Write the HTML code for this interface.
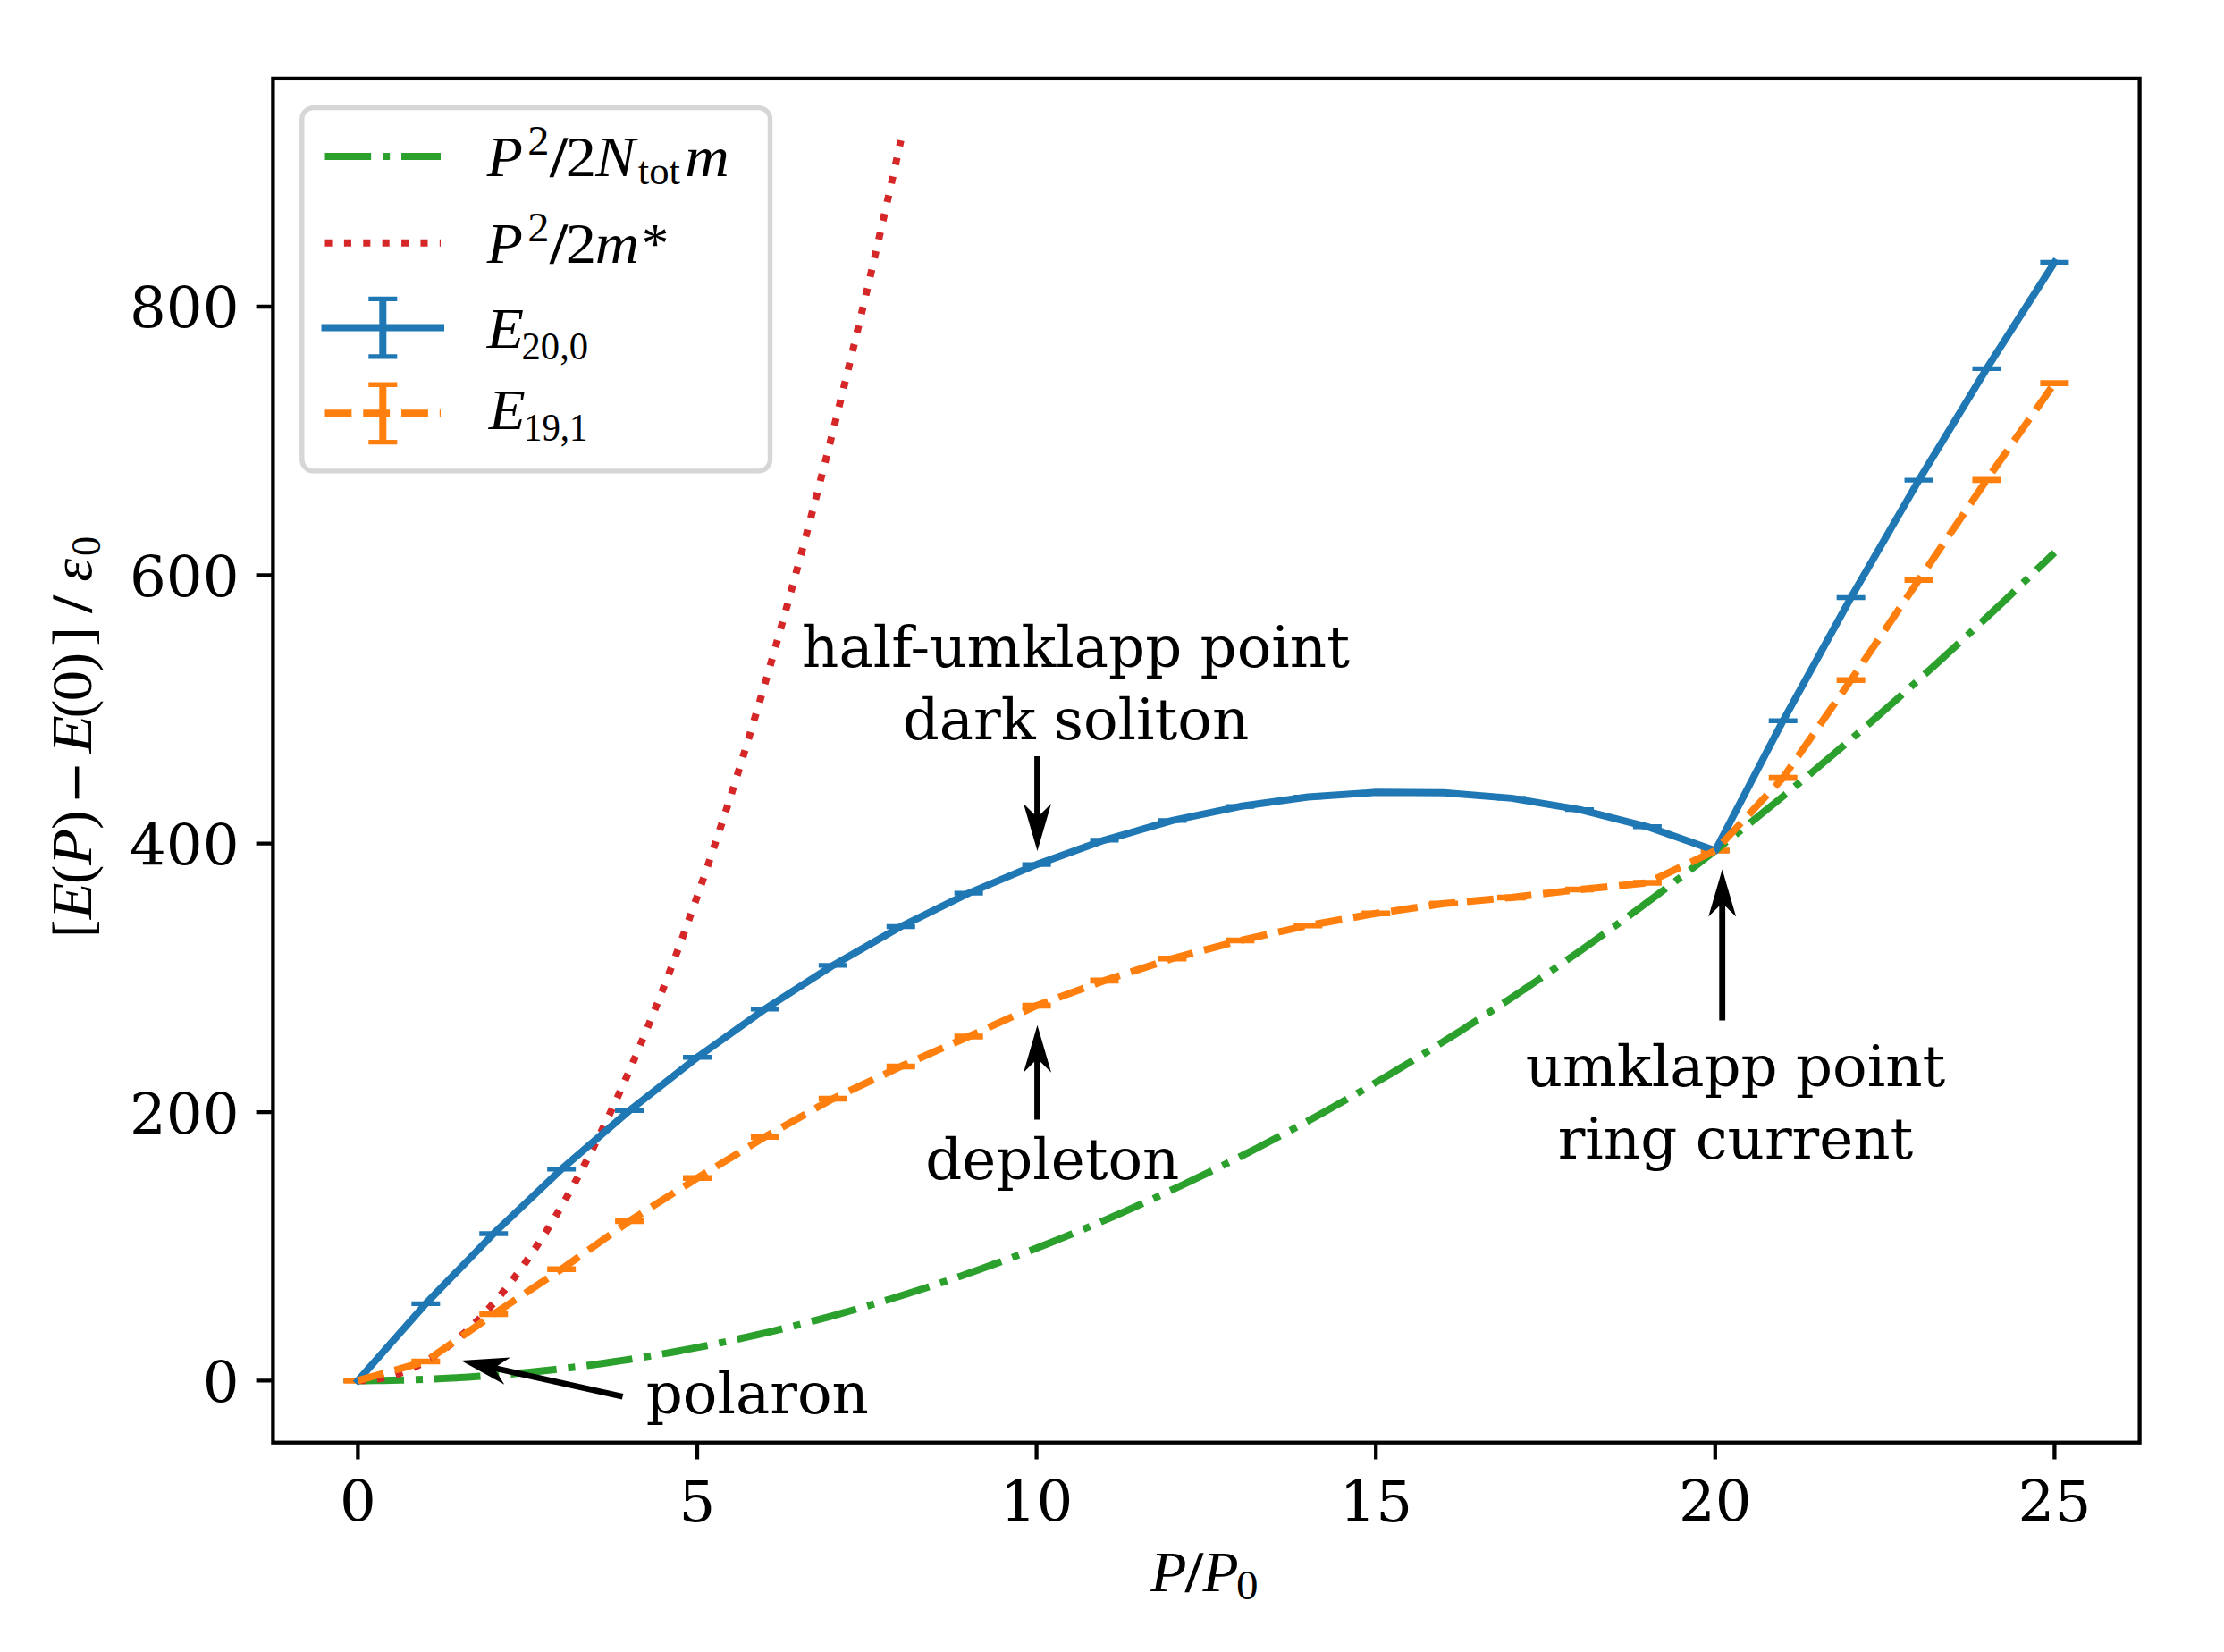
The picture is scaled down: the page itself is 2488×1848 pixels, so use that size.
<!DOCTYPE html>
<html><head><meta charset="utf-8"><title>Energy dispersion</title>
<style>html,body{margin:0;padding:0;background:#fff}svg{display:block}.dj{font-family:"DejaVu Serif","Liberation Serif",serif;font-size:64.17px;fill:#000}.m{font-family:"Liberation Serif","DejaVu Serif",serif;font-size:64.17px;fill:#000}.i{font-style:italic}.s{font-size:44.9px}.sl{stroke:#000;stroke-width:1.3px}</style></head><body>
<svg width="2488" height="1848" viewBox="0 0 2488 1848">
<rect width="2488" height="1848" fill="#fff"/>
<defs><clipPath id="ax"><rect x="305.4" y="87.9" width="2088.2" height="1525.8"/></clipPath></defs>
<g clip-path="url(#ax)" fill="none">
<path d="M384.40 1544.40 h32.0 M460.32 1458.35 h32.0 M536.24 1379.96 h32.0 M612.16 1307.87 h32.0 M688.08 1242.40 h32.0 M764.00 1182.78 h32.0 M839.92 1128.72 h32.0 M915.84 1079.91 h32.0 M991.76 1036.51 h32.0 M1067.68 999.11 h32.0 M1143.60 967.13 h32.0 M1219.52 939.83 h32.0 M1295.44 917.93 h32.0 M1371.36 902.05 h32.0 M1447.28 891.57 h32.0 M1523.20 886.35 h32.0 M1599.12 886.68 h32.0 M1675.04 892.87 h32.0 M1750.96 905.66 h32.0 M1826.88 924.77 h32.0 M1902.80 951.53 h32.0 M1978.72 806.20 h32.0 M2054.64 668.52 h32.0 M2130.56 537.15 h32.0 M2206.48 412.38 h32.0 M2282.40 293.48 h32.0 " stroke="#1f77b4" stroke-width="5.35"/>
<path d="M384.40 1543.80 h32.0 M384.40 1545.00 h32.0 M460.32 1522.32 h32.0 M460.32 1523.52 h32.0 M536.24 1469.46 h32.0 M536.24 1470.66 h32.0 M612.16 1419.15 h32.0 M612.16 1420.35 h32.0 M688.08 1365.39 h32.0 M688.08 1366.59 h32.0 M764.00 1317.19 h32.0 M764.00 1318.39 h32.0 M839.92 1271.08 h32.0 M839.92 1272.28 h32.0 M915.84 1228.43 h32.0 M915.84 1229.63 h32.0 M991.76 1192.39 h32.0 M991.76 1193.59 h32.0 M1067.68 1158.90 h32.0 M1067.68 1160.10 h32.0 M1143.60 1124.36 h32.0 M1143.60 1125.56 h32.0 M1219.52 1096.28 h32.0 M1219.52 1097.48 h32.0 M1295.44 1071.65 h32.0 M1295.44 1072.85 h32.0 M1371.36 1051.38 h32.0 M1371.36 1052.58 h32.0 M1447.28 1034.71 h32.0 M1447.28 1035.91 h32.0 M1523.20 1021.19 h32.0 M1523.20 1022.39 h32.0 M1599.12 1010.23 h32.0 M1599.12 1011.43 h32.0 M1675.04 1003.32 h32.0 M1675.04 1004.52 h32.0 M1750.96 994.46 h32.0 M1750.96 995.66 h32.0 M1826.88 986.95 h32.0 M1826.88 988.15 h32.0 M1902.80 950.91 h32.0 M1902.80 952.11 h32.0 M1978.72 869.51 h32.0 M1978.72 870.71 h32.0 M2054.64 760.19 h32.0 M2054.64 761.39 h32.0 M2130.56 648.16 h32.0 M2130.56 649.36 h32.0 M2206.48 536.28 h32.0 M2206.48 537.48 h32.0 M2282.40 428.00 h32.0 M2282.40 429.20 h32.0 " stroke="#ff7f0e" stroke-width="5.35"/>
<path d="M400.40 1544.40 L409.89 1544.38 L419.38 1544.31 L428.87 1544.19 L438.36 1544.03 L447.85 1543.82 L457.34 1543.57 L466.83 1543.27 L476.32 1542.92 L485.81 1542.52 L495.30 1542.08 L504.79 1541.60 L514.28 1541.07 L523.77 1540.49 L533.26 1539.86 L542.75 1539.19 L552.24 1538.47 L561.73 1537.71 L571.22 1536.90 L580.71 1536.04 L590.20 1535.14 L599.69 1534.19 L609.18 1533.19 L618.67 1532.15 L628.16 1531.06 L637.65 1529.93 L647.14 1528.74 L656.63 1527.52 L666.12 1526.24 L675.61 1524.92 L685.10 1523.56 L694.59 1522.14 L704.08 1520.69 L713.57 1519.18 L723.06 1517.63 L732.55 1516.03 L742.04 1514.39 L751.53 1512.70 L761.02 1510.96 L770.51 1509.18 L780.00 1507.35 L789.49 1505.47 L798.98 1503.55 L808.47 1501.58 L817.96 1499.56 L827.45 1497.50 L836.94 1495.40 L846.43 1493.24 L855.92 1491.04 L865.41 1488.80 L874.90 1486.50 L884.39 1484.16 L893.88 1481.78 L903.37 1479.35 L912.86 1476.87 L922.35 1474.34 L931.84 1471.77 L941.33 1469.16 L950.82 1466.49 L960.31 1463.78 L969.80 1461.03 L979.29 1458.23 L988.78 1455.38 L998.27 1452.48 L1007.76 1449.54 L1017.25 1446.55 L1026.74 1443.52 L1036.23 1440.44 L1045.72 1437.31 L1055.21 1434.14 L1064.70 1430.92 L1074.19 1427.66 L1083.68 1424.34 L1093.17 1420.99 L1102.66 1417.58 L1112.15 1414.13 L1121.64 1410.63 L1131.13 1407.09 L1140.62 1403.50 L1150.11 1399.87 L1159.60 1396.18 L1169.09 1392.45 L1178.58 1388.68 L1188.07 1384.86 L1197.56 1380.99 L1207.05 1377.08 L1216.54 1373.12 L1226.03 1369.11 L1235.52 1365.06 L1245.01 1360.96 L1254.50 1356.81 L1263.99 1352.62 L1273.48 1348.38 L1282.97 1344.10 L1292.46 1339.77 L1301.95 1335.39 L1311.44 1330.97 L1320.93 1326.50 L1330.42 1321.98 L1339.91 1317.42 L1349.40 1312.81 L1358.89 1308.16 L1368.38 1303.46 L1377.87 1298.71 L1387.36 1293.91 L1396.85 1289.07 L1406.34 1284.19 L1415.83 1279.25 L1425.32 1274.28 L1434.81 1269.25 L1444.30 1264.18 L1453.79 1259.06 L1463.28 1253.90 L1472.77 1248.68 L1482.26 1243.43 L1491.75 1238.12 L1501.24 1232.77 L1510.73 1227.38 L1520.22 1221.94 L1529.71 1216.45 L1539.20 1210.91 L1548.69 1205.33 L1558.18 1199.70 L1567.67 1194.03 L1577.16 1188.31 L1586.65 1182.54 L1596.14 1176.73 L1605.63 1170.87 L1615.12 1164.97 L1624.61 1159.01 L1634.10 1153.02 L1643.59 1146.97 L1653.08 1140.88 L1662.57 1134.74 L1672.06 1128.56 L1681.55 1122.33 L1691.04 1116.05 L1700.53 1109.73 L1710.02 1103.36 L1719.51 1096.95 L1729.00 1090.49 L1738.49 1083.98 L1747.98 1077.42 L1757.47 1070.82 L1766.96 1064.18 L1776.45 1057.48 L1785.94 1050.75 L1795.43 1043.96 L1804.92 1037.13 L1814.41 1030.25 L1823.90 1023.33 L1833.39 1016.35 L1842.88 1009.34 L1852.37 1002.27 L1861.86 995.16 L1871.35 988.01 L1880.84 980.81 L1890.33 973.56 L1899.82 966.26 L1909.31 958.92 L1918.80 951.53 L1928.29 944.10 L1937.78 936.62 L1947.27 929.09 L1956.76 921.52 L1966.25 913.90 L1975.74 906.23 L1985.23 898.52 L1994.72 890.76 L2004.21 882.96 L2013.70 875.11 L2023.19 867.21 L2032.68 859.27 L2042.17 851.28 L2051.66 843.24 L2061.15 835.16 L2070.64 827.03 L2080.13 818.86 L2089.62 810.63 L2099.11 802.37 L2108.60 794.05 L2118.09 785.69 L2127.58 777.29 L2137.07 768.83 L2146.56 760.33 L2156.05 751.79 L2165.54 743.20 L2175.03 734.56 L2184.52 725.87 L2194.01 717.14 L2203.50 708.37 L2212.99 699.54 L2222.48 690.67 L2231.97 681.76 L2241.46 672.79 L2250.95 663.78 L2260.44 654.73 L2269.93 645.63 L2279.42 636.48 L2288.91 627.29 L2298.40 618.05" stroke="#2ca02c" stroke-width="8" stroke-dasharray="51.65 12.91 8.07 12.91"/>
<path d="M400.40 1544.40 L403.44 1544.37 L406.47 1544.26 L409.51 1544.09 L412.55 1543.85 L415.58 1543.53 L418.62 1543.15 L421.66 1542.70 L424.69 1542.18 L427.73 1541.59 L430.77 1540.93 L433.80 1540.20 L436.84 1539.41 L439.88 1538.54 L442.92 1537.60 L445.95 1536.60 L448.99 1535.52 L452.03 1534.38 L455.06 1533.16 L458.10 1531.88 L461.14 1530.53 L464.17 1529.11 L467.21 1527.62 L470.25 1526.05 L473.28 1524.42 L476.32 1522.73 L479.36 1520.96 L482.39 1519.12 L485.43 1517.21 L488.47 1515.23 L491.50 1513.19 L494.54 1511.07 L497.58 1508.89 L500.61 1506.63 L503.65 1504.31 L506.69 1501.92 L509.72 1499.46 L512.76 1496.92 L515.80 1494.32 L518.84 1491.65 L521.87 1488.91 L524.91 1486.10 L527.95 1483.23 L530.98 1480.28 L534.02 1477.26 L537.06 1474.17 L540.09 1471.02 L543.13 1467.79 L546.17 1464.50 L549.20 1461.13 L552.24 1457.70 L555.28 1454.20 L558.31 1450.63 L561.35 1446.98 L564.39 1443.27 L567.42 1439.49 L570.46 1435.64 L573.50 1431.73 L576.53 1427.74 L579.57 1423.68 L582.61 1419.55 L585.64 1415.36 L588.68 1411.09 L591.72 1406.76 L594.76 1402.35 L597.79 1397.88 L600.83 1393.34 L603.87 1388.72 L606.90 1384.04 L609.94 1379.29 L612.98 1374.47 L616.01 1369.58 L619.05 1364.62 L622.09 1359.59 L625.12 1354.49 L628.16 1349.33 L631.20 1344.09 L634.23 1338.78 L637.27 1333.41 L640.31 1327.96 L643.34 1322.45 L646.38 1316.87 L649.42 1311.21 L652.45 1305.49 L655.49 1299.70 L658.53 1293.84 L661.56 1287.91 L664.60 1281.91 L667.64 1275.84 L670.68 1269.70 L673.71 1263.50 L676.75 1257.22 L679.79 1250.87 L682.82 1244.46 L685.86 1237.97 L688.90 1231.42 L691.93 1224.79 L694.97 1218.10 L698.01 1211.34 L701.04 1204.51 L704.08 1197.60 L707.12 1190.63 L710.15 1183.59 L713.19 1176.48 L716.23 1169.31 L719.26 1162.06 L722.30 1154.74 L725.34 1147.35 L728.37 1139.90 L731.41 1132.37 L734.45 1124.78 L737.48 1117.11 L740.52 1109.38 L743.56 1101.58 L746.60 1093.70 L749.63 1085.76 L752.67 1077.75 L755.71 1069.67 L758.74 1061.52 L761.78 1053.30 L764.82 1045.01 L767.85 1036.66 L770.89 1028.23 L773.93 1019.73 L776.96 1011.17 L780.00 1002.53 L783.04 993.83 L786.07 985.05 L789.11 976.21 L792.15 967.30 L795.18 958.31 L798.22 949.26 L801.26 940.14 L804.29 930.95 L807.33 921.69 L810.37 912.36 L813.40 902.97 L816.44 893.50 L819.48 883.96 L822.52 874.36 L825.55 864.68 L828.59 854.93 L831.63 845.12 L834.66 835.24 L837.70 825.28 L840.74 815.26 L843.77 805.17 L846.81 795.01 L849.85 784.78 L852.88 774.48 L855.92 764.11 L858.96 753.67 L861.99 743.16 L865.03 732.58 L868.07 721.94 L871.10 711.22 L874.14 700.44 L877.18 689.58 L880.21 678.66 L883.25 667.66 L886.29 656.60 L889.32 645.47 L892.36 634.27 L895.40 623.00 L898.44 611.66 L901.47 600.25 L904.51 588.77 L907.55 577.22 L910.58 565.60 L913.62 553.92 L916.66 542.16 L919.69 530.33 L922.73 518.44 L925.77 506.47 L928.80 494.44 L931.84 482.34 L934.88 470.16 L937.91 457.92 L940.95 445.61 L943.99 433.23 L947.02 420.78 L950.06 408.26 L953.10 395.67 L956.13 383.01 L959.17 370.29 L962.21 357.49 L965.24 344.62 L968.28 331.69 L971.32 318.68 L974.36 305.61 L977.39 292.47 L980.43 279.25 L983.47 265.97 L986.50 252.62 L989.54 239.20 L992.58 225.71 L995.61 212.15 L998.65 198.52 L1001.69 184.82 L1004.72 171.05 L1007.76 157.22" stroke="#d62728" stroke-width="8" stroke-dasharray="8.07 13.32"/>
<path d="M400.40 1544.40 L476.32 1458.35 L552.24 1379.96 L628.16 1307.87 L704.08 1242.40 L780.00 1182.78 L855.92 1128.72 L931.84 1079.91 L1007.76 1036.51 L1083.68 999.11 L1159.60 967.13 L1235.52 939.83 L1311.44 917.93 L1387.36 902.05 L1463.28 891.57 L1539.20 886.35 L1615.12 886.68 L1691.04 892.87 L1766.96 905.66 L1842.88 924.77 L1918.80 951.53 L1994.72 806.20 L2070.64 668.52 L2146.56 537.15 L2222.48 412.38 L2298.40 293.48" stroke="#1f77b4" stroke-width="8" stroke-linejoin="round" stroke-linecap="square"/>
<path d="M400.40 1544.40 L476.32 1522.92 L552.24 1470.06 L628.16 1419.75 L704.08 1365.99 L780.00 1317.79 L855.92 1271.68 L931.84 1229.03 L1007.76 1192.99 L1083.68 1159.50 L1159.60 1124.96 L1235.52 1096.88 L1311.44 1072.25 L1387.36 1051.98 L1463.28 1035.31 L1539.20 1021.79 L1615.12 1010.83 L1691.04 1003.92 L1766.96 995.06 L1842.88 987.55 L1918.80 951.51 L1994.72 870.11 L2070.64 760.79 L2146.56 648.76 L2222.48 536.88 L2298.40 428.60" stroke="#ff7f0e" stroke-width="8" stroke-dasharray="29.86 12.91" stroke-linejoin="round"/>
</g>
<rect x="305.4" y="87.9" width="2088.2" height="1525.8" fill="none" stroke="#000" stroke-width="4.28"/>
<path d="M400.40 1613.70 v18.8 M780.00 1613.70 v18.8 M1159.60 1613.70 v18.8 M1539.20 1613.70 v18.8 M1918.80 1613.70 v18.8 M2298.40 1613.70 v18.8 M305.40 1544.40 h-18.8 M305.40 1244.05 h-18.8 M305.40 943.70 h-18.8 M305.40 643.35 h-18.8 M305.40 343.00 h-18.8 " stroke="#000" stroke-width="4.28" fill="none"/>
<text class="dj" x="400.4" y="1702" text-anchor="middle">0</text>
<text class="dj" x="780.0" y="1702" text-anchor="middle">5</text>
<text class="dj" x="1159.6" y="1702" text-anchor="middle">10</text>
<text class="dj" x="1539.2" y="1702" text-anchor="middle">15</text>
<text class="dj" x="1918.8" y="1702" text-anchor="middle">20</text>
<text class="dj" x="2298.4" y="1702" text-anchor="middle">25</text>
<text class="dj" x="267.5" y="1568.8" text-anchor="end">0</text>
<text class="dj" x="267.5" y="1268.5" text-anchor="end">200</text>
<text class="dj" x="267.5" y="968.1" text-anchor="end">400</text>
<text class="dj" x="267.5" y="667.8" text-anchor="end">600</text>
<text class="dj" x="267.5" y="367.4" text-anchor="end">800</text>
<text class="m i" style="font-size:64.17px" transform="translate(1287.35 1779.80) scale(1.0260 1.000)">P</text><text class="m sl" style="font-size:64.17px" transform="translate(1326.30 1779.80) scale(1.0881 1.000)">/</text><text class="m i" style="font-size:64.17px" transform="translate(1345.45 1779.80) scale(1.0234 1.000)">P</text><text class="m" style="font-size:44.90px" transform="translate(1383.03 1788.50) scale(1.0930 1.040)">0</text>
<g transform="translate(102.1 1044.4) rotate(-90)"><text class="m" style="font-size:64.17px" transform="translate(-4.47 0.00) scale(0.9379 1.000)">[</text><text class="m i" style="font-size:64.17px" transform="translate(16.08 0.00) scale(1.0433 1.000)">E</text><text class="m" style="font-size:64.17px" transform="translate(55.48 0.00) scale(1.0011 1.000)">(</text><text class="m i" style="font-size:64.17px" transform="translate(76.46 0.00) scale(1.0445 1.000)">P</text><text class="m" style="font-size:64.17px" transform="translate(116.54 0.00) scale(0.9951 1.000)">)</text><text class="m" style="font-size:64.17px" transform="translate(147.36 13.50) scale(1.2023 1.400)">−</text><text class="m i" style="font-size:64.17px" transform="translate(201.62 0.00) scale(1.0870 1.000)">E</text><text class="m" style="font-size:64.17px" transform="translate(241.20 0.00) scale(0.9587 1.000)">(</text><text class="m" style="font-size:64.17px" transform="translate(260.18 0.00) scale(1.0736 1.000)">0</text><text class="m" style="font-size:64.17px" transform="translate(293.03 0.00) scale(1.0011 1.000)">)</text><text class="m" style="font-size:64.17px" transform="translate(321.90 0.00) scale(0.9939 1.000)">]</text><text class="m sl" style="font-size:64.17px" transform="translate(359.20 0.00) scale(1.0601 1.000)">/</text><text class="m i" style="font-size:64.17px" transform="translate(393.69 0.00) scale(1.0233 1.000)">ε</text><text class="m" style="font-size:44.90px" transform="translate(422.50 9.40) scale(0.9932 1.040)">0</text></g>
<text class="dj" x="1203.5" y="746.1" text-anchor="middle">half-umklapp point</text>
<text class="dj" x="1203.5" y="826.8" text-anchor="middle">dark soliton</text>
<text class="dj" x="1177.3" y="1318.7" text-anchor="middle">depleton</text>
<text class="dj" x="1941.5" y="1215.4" text-anchor="middle">umklapp point</text>
<text class="dj" x="1941.5" y="1295.8" text-anchor="middle">ring current</text>
<text class="dj" x="847.3" y="1580.9" text-anchor="middle">polaron</text>
<polygon points="1160.50,952.00 1145.00,899.00 1157.10,911.00 1157.10,846.00 1163.90,846.00 1163.90,911.00 1176.00,899.00" fill="#000"/>
<polygon points="1160.50,1146.70 1176.00,1199.70 1163.90,1187.70 1163.90,1252.40 1157.10,1252.40 1157.10,1187.70 1145.00,1199.70" fill="#000"/>
<polygon points="1926.70,972.60 1942.20,1025.60 1930.10,1013.60 1930.10,1141.50 1923.30,1141.50 1923.30,1013.60 1911.20,1025.60" fill="#000"/>
<polygon points="515.90,1522.10 571.00,1518.48 556.66,1527.68 697.34,1558.98 695.86,1565.62 555.18,1534.32 564.27,1548.74" fill="#000"/>
<rect x="337.8" y="120.6" width="523.7" height="406.2" rx="12.8" fill="#fff" stroke="#d6d6d6" stroke-width="5.35"/>
<path d="M363.5 175H493" stroke="#2ca02c" stroke-width="8" stroke-dasharray="51.65 12.91 8.07 12.91" fill="none"/>
<path d="M363.5 271.8H493" stroke="#d62728" stroke-width="8" stroke-dasharray="8.07 13.32" fill="none"/>
<path d="M359.5 366.5H497" stroke="#1f77b4" stroke-width="8" fill="none"/>
<path d="M428.3 334.4V398.8" stroke="#1f77b4" stroke-width="8" fill="none"/>
<path d="M412.3 334.4h32 M412.3 398.8h32" stroke="#1f77b4" stroke-width="5.35" fill="none"/>
<path d="M363.5 462.3H493" stroke="#ff7f0e" stroke-width="8" stroke-dasharray="29.86 12.91" fill="none"/>
<path d="M428.3 430.2V494.6" stroke="#ff7f0e" stroke-width="8" fill="none"/>
<path d="M412.3 430.2h32 M412.3 494.6h32" stroke="#ff7f0e" stroke-width="5.35" fill="none"/>
<text class="m i" style="font-size:64.17px" transform="translate(544.65 197.40) scale(1.0234 1.000)">P</text><text class="m" style="font-size:44.90px" transform="translate(590.37 173.40) scale(1.0778 1.030)">2</text><text class="m sl" style="font-size:64.17px" transform="translate(615.50 197.40) scale(1.0713 1.000)">/</text><text class="m" style="font-size:64.17px" transform="translate(632.69 197.40) scale(1.0690 1.000)">2</text>
<text class="m i" style="font-size:64.17px" transform="translate(544.65 294.00) scale(1.0234 1.000)">P</text><text class="m" style="font-size:44.90px" transform="translate(590.37 270.00) scale(1.0778 1.030)">2</text><text class="m sl" style="font-size:64.17px" transform="translate(615.50 294.00) scale(1.0713 1.000)">/</text><text class="m" style="font-size:64.17px" transform="translate(632.69 294.00) scale(1.0690 1.000)">2</text>
<text class="m i" style="font-size:64.17px" transform="translate(666.19 197.40) scale(1.0401 1.000)">N</text><text class="m" style="font-size:44.90px" transform="translate(713.76 205.50) scale(0.9958 1.000)">tot</text><text class="m i" style="font-size:64.17px" transform="translate(766.32 197.40) scale(1.0695 1.000)">m</text>
<text class="m i" style="font-size:64.17px" transform="translate(665.63 294.00) scale(1.0646 1.000)">m</text><text class="m" style="font-size:64.17px" transform="translate(717.72 294.00) scale(0.9505 1.000)">*</text>
<text class="m i" style="font-size:64.17px" transform="translate(544.79 389.00) scale(1.0536 1.000)">E</text><text class="m" style="font-size:44.90px" transform="translate(583.53 402.10) scale(0.9494 1.000)">20,0</text>
<text class="m i" style="font-size:64.17px" transform="translate(546.79 480.00) scale(1.0484 1.000)">E</text><text class="m" style="font-size:44.90px" transform="translate(586.01 493.10) scale(0.9092 1.000)">19,1</text>
</svg>
</body></html>
